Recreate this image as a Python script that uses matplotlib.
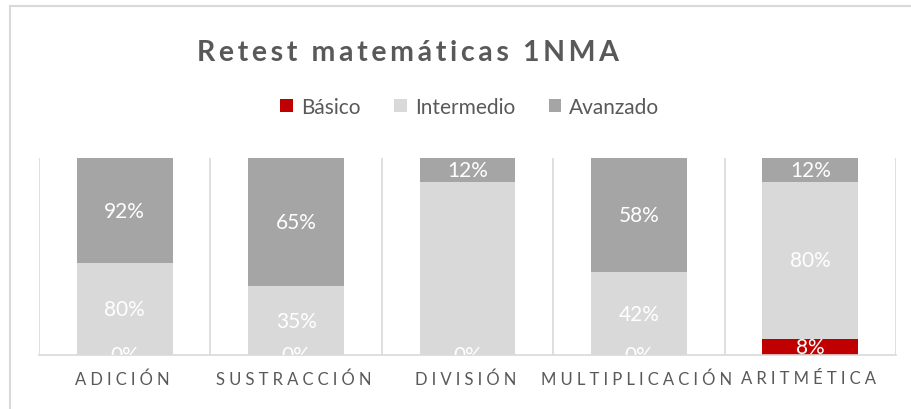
import matplotlib
matplotlib.use('Agg')
import matplotlib.pyplot as plt
from matplotlib.lines import Line2D
from matplotlib.patches import Patch
import numpy as np

categories = ['ADICIÓN', 'SUSTRACCIÓN', 'DIVISIÓN', 'MULTIPLICACIÓN', 'ARITMÉTICA']
levels = ['Básico', 'Intermedio', 'Avanzado']
basico = [0, 0, 0, 0, 8]
intermedio = [80, 35, 88, 42, 80]
avanzado = [92, 65, 12, 58, 12]
# labels that were left blank in the sheet
blank_labels = {('Intermedio', 'DIVISIÓN')}

colors = {'Básico': '#C00000', 'Intermedio': '#D9D9D9', 'Avanzado': '#A5A5A5'}
text_gray = '#595959'
line_gray = '#D9D9D9'

plt.rcParams['font.family'] = ['Lato', 'DejaVu Sans']


def spaced(text, gap='\u2009', trailing=False):
    out = gap.join(text)
    return out + gap if trailing else out


fig = plt.figure(figsize=(9.12, 4.10), dpi=100)
fig.patch.set_facecolor('white')

# chart frame (only top and left edges fall inside the image)
fig.add_artist(Line2D([10 / 912, 10 / 912], [0, 1 - 7 / 410], color=line_gray, lw=1.5))
fig.add_artist(Line2D([10 / 912, 1], [1 - 7 / 410, 1 - 7 / 410], color=line_gray, lw=1.5))

ax = fig.add_axes([39 / 912, 1 - 356 / 410, 857 / 912, 197 / 410])

values = np.array([basico, intermedio, avanzado], dtype=float)
shares = values / values.sum(axis=0)
x = np.arange(len(categories))

bottom = np.zeros(len(categories))
for level, raw, share in zip(levels, values, shares):
    ax.bar(x, share, width=0.56, bottom=bottom, color=colors[level], zorder=2)
    for xi, cat, v, s, b in zip(x, categories, raw, share, bottom):
        if (level, cat) in blank_labels:
            continue
        ax.text(xi, b + s / 2, f'{v:.0f}%', ha='center', va='center',
                color='white', fontsize=15, clip_on=True, zorder=3)
    bottom += share

for b in np.arange(len(categories) + 1) - 0.5:
    ax.axvline(b, color=line_gray, lw=1.2, zorder=1)

ax.set_xlim(-0.5, len(categories) - 0.5)
ax.set_ylim(0, 1)
ax.set_yticks([])
ax.set_xticks(x)
ax.set_xticklabels([spaced(c, '\u2005', trailing=True) for c in categories],
                   color=text_gray, fontsize=12)
ax.tick_params(axis='x', length=0, pad=11)
for side in ['top', 'left', 'right']:
    ax.spines[side].set_visible(False)
ax.spines['bottom'].set_color(line_gray)
ax.spines['bottom'].set_linewidth(1.2)

fig.text(408 / 912, 1 - 53 / 410, spaced('Retest matemáticas 1NMA', '\u2009'),
         ha='center', va='center', fontsize=20.5, fontweight='bold', color=text_gray)

handles = [Patch(facecolor=colors[lv], edgecolor='none') for lv in levels]
fig.legend(handles, levels, loc='center', bbox_to_anchor=(470 / 912, 1 - 108 / 410),
           ncol=3, frameon=False, fontsize=15, labelcolor=text_gray,
           handlelength=0.6, handleheight=0.6, handletextpad=0.4, columnspacing=1.6)

fig.savefig('out.png', dpi=100)
